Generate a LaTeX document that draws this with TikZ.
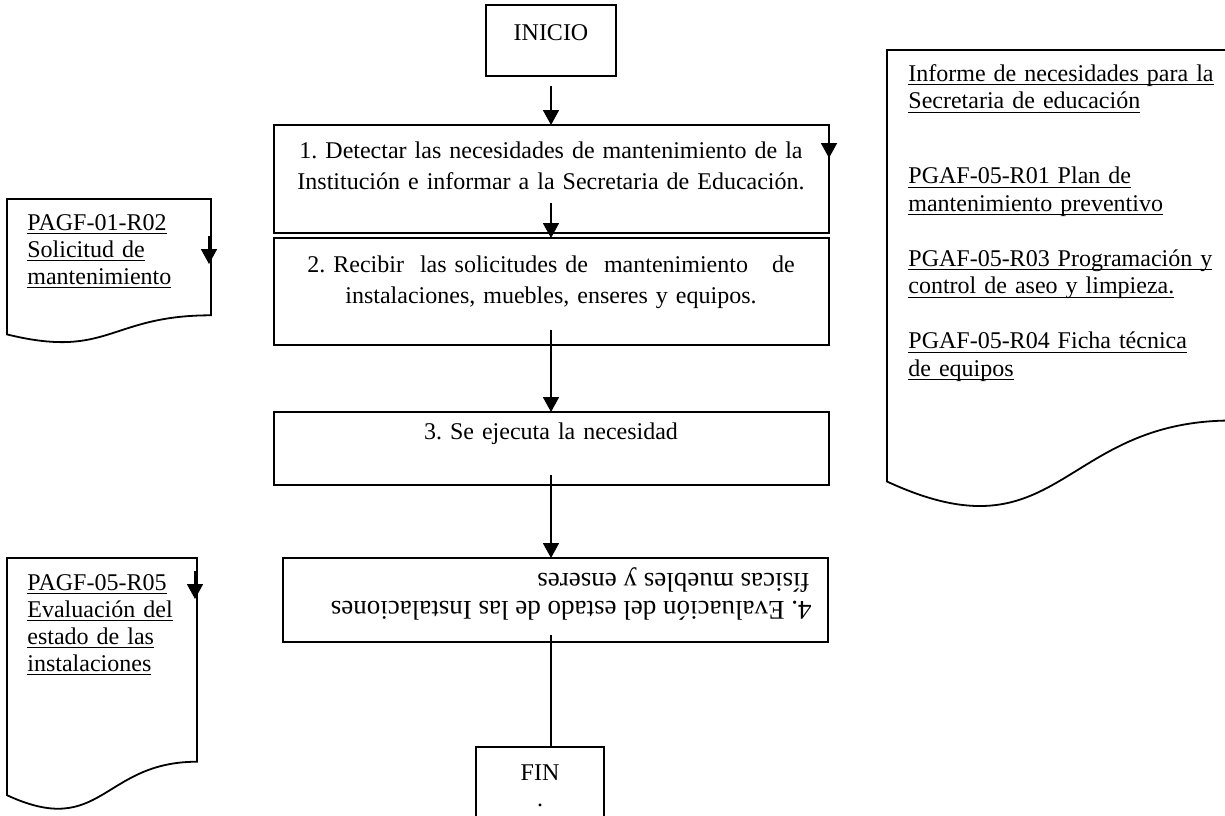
\documentclass[tikz,border=0pt]{standalone}
\usepackage{fontspec}
\setmainfont{Liberation Serif}
\usetikzlibrary{arrows.meta}
% underline one line of text at a fixed depth below the baseline
\newcommand{\uln}[1]{\leavevmode\setbox0\hbox{#1}\rlap{\rule[-2.2pt]{\wd0}{0.65pt}}\box0}
\begin{document}
\frenchspacing
\begin{tikzpicture}[x=0.5pt,y=-0.5pt,
  flowbox/.style={draw, line width=0.9pt, inner sep=0pt, outer sep=0pt, anchor=north west},
  docshape/.style={draw, line width=0.9pt, line join=miter},
  boxtxt/.style={font=\fontsize{12}{15.5}\selectfont, inner sep=0pt, anchor=base, text width=275pt, align=center},
  linetxt/.style={font=\fontsize{12}{14}\selectfont, inner sep=0pt},
  bigtxt/.style={font=\fontsize{13.5}{15}\selectfont, inner sep=0pt, rotate=180, anchor=base west},
  doctxt/.style={font=\fontsize{12}{13.5}\selectfont, inner sep=0pt, anchor=base west, text width=100pt, align=left},
  arr/.style={line width=0.9pt, -{Triangle[width=8pt,length=7.5pt]}},
  plain/.style={line width=0.9pt}]
\useasboundingbox (0,0) rectangle (1225,815);
\clip (0,0) rectangle (1225,815);
\fill[white] (0,0) rectangle (1225,815);

% ---- main flow boxes ----
\node[flowbox, minimum width=65pt, minimum height=35.5pt] (ini) at (486,5) {};
\node[linetxt, anchor=base] (initxt) at (551,40) {INICIO};

\node[flowbox, minimum width=277.5pt, minimum height=54pt] (b1) at (274,125) {};
\node[boxtxt] (b1txt) at (551,158) {1. Detectar las necesidades de mantenimiento de la\\Institución e informar a la Secretaria de Educación.};

\node[flowbox, minimum width=277.5pt, minimum height=53.5pt] (b2) at (274,238) {};
\node[boxtxt] (b2txt) at (551,272) {2. Recibir\ \ las solicitudes de\ \ mantenimiento\ \ \ de\\instalaciones, muebles, enseres y equipos.};

\node[flowbox, minimum width=277.5pt, minimum height=36.5pt] (b3) at (274,412) {};
\node[boxtxt] (b3txt) at (551,439) {3. Se ejecuta la necesidad};

% box 4 is printed upside down
\node[flowbox, minimum width=272.5pt, minimum height=42pt] (b4) at (283,558) {};
\node[bigtxt] (b4l1) at (812,601) {4. Evaluación del estado de las Instalaciones};
\node[bigtxt] (b4l2) at (810,573) {físicas muebles y enseres};

\node[flowbox, minimum width=64pt, minimum height=50pt] (fin) at (476,747) {};
\node[linetxt, anchor=base] (fintxt) at (540,780) {FIN};
\node[linetxt, anchor=base] (findot) at (540,806) {.};

% ---- connectors ----
\coordinate (s0) at (551,86);
\coordinate (s1) at (551,203);
\coordinate (s2) at (551,330);
\coordinate (s3) at (551,475);
\coordinate (s4) at (551,635);
\draw[arr] (s0) -- (s0 |- b1.north);
\draw[arr] (s1) -- (s1 |- b2.north);
\draw[arr] (s2) -- (s2 |- b3.north);
\draw[arr] (s3) -- (s3 |- b4.north);
\draw[plain] (s4) -- (s4 |- fin.north);

% short arrows along the right edges
\coordinate (r1a) at (829,128);
\coordinate (r1b) at (829,158);
\draw[arr] (r1a) -- (r1b);
\coordinate (d1a) at (209,236);
\coordinate (d1b) at (209,264);
\draw[arr] (d1a) -- (d1b);
\coordinate (d2a) at (195,571);
\coordinate (d2b) at (195,599);
\draw[arr] (d2a) -- (d2b);

% ---- document symbols ----
\draw[docshape] (7,199) -- (211,199) -- (211,315.3)
  .. controls (109,315.3) and (109,359.5) .. (7,334.4) -- cycle;
\node[doctxt] (doc1) at (27,230) {\uln{PAGF-01-R02}\\\uln{Solicitud de}\\\uln{mantenimiento}};

\draw[docshape] (7,558) -- (197,558) -- (197,761.7)
  .. controls (102,761.7) and (102,839.2) .. (7,795.2) -- cycle;
\node[doctxt] (doc2) at (27,590) {\uln{PAGF-05-R05}\\\uln{Evaluación del}\\\uln{estado de las}\\\uln{instalaciones}};

\draw[docshape] (887,50) -- (1232,50) -- (1232,420.5)
  .. controls (1059.5,420.5) and (1059.5,561.4) .. (887,481.5) -- cycle;
\node[doctxt, text width=160pt, font=\fontsize{12}{13.75}\selectfont] (docr) at (908,81)
  {\uln{Informe de necesidades para la}\\\uln{Secretaria de educación}\\[23.75pt]
   \uln{PGAF-05-R01 Plan de}\\\uln{mantenimiento preventivo}\\[13.75pt]
   \uln{PGAF-05-R03 Programación y}\\\uln{control de aseo y limpieza.}\\[13.75pt]
   \uln{PGAF-05-R04 Ficha técnica}\\\uln{de equipos}};
\end{tikzpicture}
\end{document}
